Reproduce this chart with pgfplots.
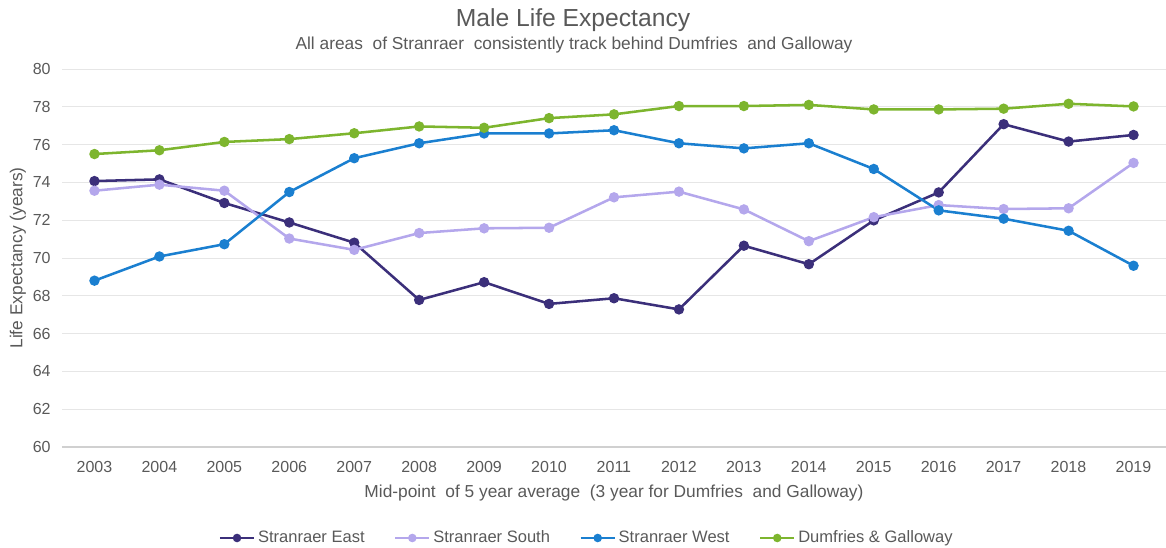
\documentclass[border=0pt]{standalone}
\usepackage{pgfplots}
\pgfplotsset{compat=1.18}
\usepackage{fontspec}
\setmainfont{Liberation Sans}
\definecolor{txt}{HTML}{595959}
\definecolor{gridc}{HTML}{E6E6E6}
\definecolor{basec}{HTML}{D0D0D0}
\definecolor{east}{HTML}{3B2F7A}
\definecolor{south}{HTML}{B4A7EC}
\definecolor{west}{HTML}{1A7FD0}
\definecolor{dg}{HTML}{7DB52E}
\begin{document}
\begin{tikzpicture}
\path[use as bounding box] (-46.5pt,-75.75pt) rectangle (828pt,335.25pt);
\begin{axis}[
  at={(0pt,0pt)}, anchor=south west,
  scale only axis, width=828pt, height=283.5pt,
  xmin=2002.5, xmax=2019.5, ymin=60, ymax=80,
  xtick={2003,...,2019}, ytick={60,62,...,80},
  /pgf/number format/1000 sep={},
  /pgf/number format/assume math mode=true,
  ticklabel style={font=\fontsize{12}{14}\selectfont, text=txt},
  xticklabel style={yshift=-7pt},
  yticklabel style={xshift=-5pt},
  major tick length=0pt,
  xmajorgrids=false, ymajorgrids=true, grid style={draw=gridc, line width=0.7pt},
  axis line style={draw=none},
  xlabel={Mid-point\ \ of 5 year average\ \ (3 year for Dumfries\ \ and Galloway)},
  ylabel={Life Expectancy (years)},
  label style={font=\fontsize{13}{15}\selectfont, text=txt},
  xlabel style={at={(axis description cs:0.5,-0.1217)}, anchor=center},
  ylabel style={at={(axis description cs:-0.0399,0.5)}, anchor=center},
  legend columns=4,
  legend style={draw=none, fill=none, at={(393.75pt,-68.25pt)}, anchor=center,
    font=\fontsize{12.4}{14}\selectfont, text=txt,
    /tikz/every even column/.append style={column sep=20pt}},
  legend image code/.code={\draw[#1, mark repeat=2, mark phase=2, mark size=2.2pt] plot coordinates {(0pt,0pt) (0.45cm,0pt) (0.9cm,0pt)};},
  every axis plot/.append style={line width=1.9pt, mark=*, mark size=2.9pt},
  clip=false,
]
\draw[basec, line width=0.9pt] (axis cs:2002.5,60) -- (axis cs:2019.5,60);
\addplot[color=east, mark options={fill=east}] coordinates {
(2003,74.07) (2004,74.16) (2005,72.91) (2006,71.88) (2007,70.81) (2008,67.78) (2009,68.72) (2010,67.57) (2011,67.87) (2012,67.28) (2013,70.65) (2014,69.67) (2015,71.99) (2016,73.47) (2017,77.08) (2018,76.16) (2019,76.51)};
\addlegendentry{Stranraer East}
\addplot[color=south, mark options={fill=south}] coordinates {
(2003,73.56) (2004,73.88) (2005,73.56) (2006,71.03) (2007,70.43) (2008,71.32) (2009,71.57) (2010,71.60) (2011,73.21) (2012,73.51) (2013,72.57) (2014,70.89) (2015,72.16) (2016,72.80) (2017,72.59) (2018,72.63) (2019,75.03)};
\addlegendentry{Stranraer South}
\addplot[color=west, mark options={fill=west}] coordinates {
(2003,68.80) (2004,70.08) (2005,70.73) (2006,73.49) (2007,75.28) (2008,76.07) (2009,76.59) (2010,76.59) (2011,76.76) (2012,76.07) (2013,75.80) (2014,76.07) (2015,74.71) (2016,72.52) (2017,72.08) (2018,71.44) (2019,69.59)};
\addlegendentry{Stranraer West}
\addplot[color=dg, mark options={fill=dg}] coordinates {
(2003,75.50) (2004,75.70) (2005,76.14) (2006,76.29) (2007,76.60) (2008,76.96) (2009,76.89) (2010,77.40) (2011,77.60) (2012,78.04) (2013,78.04) (2014,78.10) (2015,77.86) (2016,77.86) (2017,77.90) (2018,78.16) (2019,78.02)};
\addlegendentry{Dumfries \& Galloway}
\end{axis}
\node[text=txt, font=\fontsize{18.5}{22}\selectfont] at (383.25pt,320.25pt) {Male Life Expectancy};
\node[text=txt, font=\fontsize{13}{15}\selectfont] at (384pt,301.5pt) {All areas\ \ of Stranraer\ \ consistently track behind Dumfries\ \ and Galloway};
\end{tikzpicture}
\end{document}
